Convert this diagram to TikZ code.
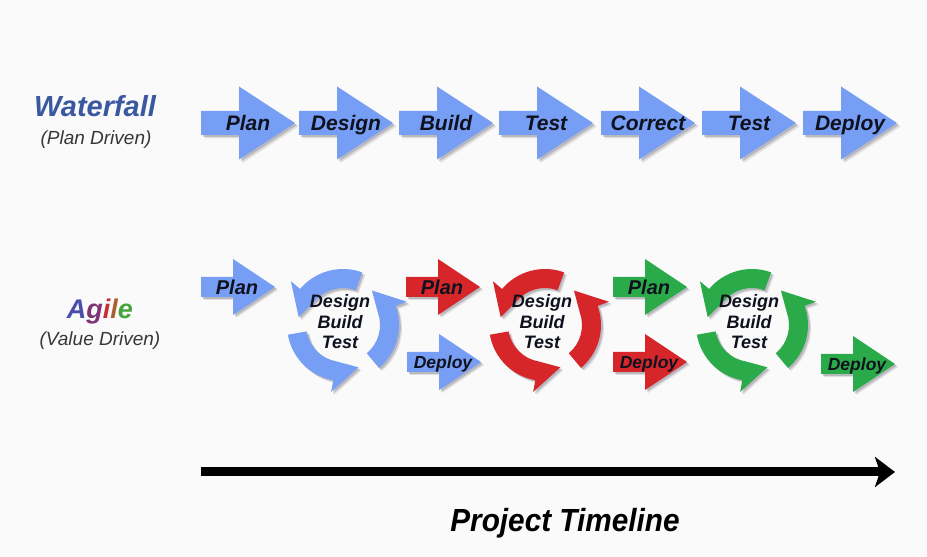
\documentclass[tikz,border=0pt]{standalone}
\usepackage{fontspec}
\setmainfont{Liberation Sans}
\newfontfamily\narrowf[FakeStretch=0.93]{Liberation Sans}
\usetikzlibrary{arrows.meta}
\definecolor{bgc}{RGB}{250,250,250}
\definecolor{cblue}{RGB}{118,158,244}
\definecolor{cred}{RGB}{214,38,42}
\definecolor{cgreen}{RGB}{43,170,74}
\definecolor{wfblue}{RGB}{58,88,160}
\definecolor{txtc}{RGB}{15,18,30}
\definecolor{subc}{RGB}{55,55,55}
\definecolor{shc}{RGB}{30,30,50}
\definecolor{agA}{RGB}{72,78,170}
\definecolor{agg}{RGB}{128,52,118}
\definecolor{agi}{RGB}{200,45,50}
\definecolor{agl}{RGB}{170,95,45}
\definecolor{age}{RGB}{72,165,62}
\tikzset{
  lbl/.style={text=txtc, inner sep=0pt, anchor=base},
  pics/bigarr/.style 2 args={code={
    \foreach \d/\o in {3.5/.12, 2/.2}{
      \fill[shc, opacity=\o, shift={(\d,-\d)}] (0,12)--(38,12)--(38,36.5)--(94,0)--(38,-36.5)--(38,-12)--(0,-12)--cycle;
    }
    \fill[#1] (0,12)--(38,12)--(38,36.5)--(94,0)--(38,-36.5)--(38,-12)--(0,-12)--cycle;
    \node[lbl, font=\fontsize{21}{21}\selectfont\bfseries\itshape] (-t) at (47,-7.5) {#2};
  }},
  pics/smallarr/.style n args={3}{code={
    \foreach \d/\o in {3/.12, 1.8/.2}{
      \fill[shc, opacity=\o, shift={(\d,-\d)}] (0,10)--(32,10)--(32,28)--(74,0)--(32,-28)--(32,-10)--(0,-10)--cycle;
    }
    \fill[#1] (0,10)--(32,10)--(32,28)--(74,0)--(32,-28)--(32,-10)--(0,-10)--cycle;
    \node[lbl, font=\fontsize{#3}{#3}\selectfont\bfseries\itshape] (-t) at (36,{-0.358*#3}) {#2};
  }},
  pics/cyc/.style={code={
    \foreach \s in {70,190,310}{
      \pgfmathsetmacro\angb{\s+70}
      \pgfmathsetmacro\angt{\s+100}
      \foreach \d/\o in {3/.12, 1.8/.2}{
        \fill[shc, opacity=\o, shift={(\d,-\d)}] (\s:56pt) arc[start angle=\s, end angle=\angb, radius=56pt] -- (\angb:68pt) -- (\angt:45pt) -- (\angb:37pt) arc[start angle=\angb, end angle=\s, radius=37pt] -- cycle;
      }
      \fill[#1] (\s:56pt) arc[start angle=\s, end angle=\angb, radius=56pt] -- (\angb:68pt) -- (\angt:45pt) -- (\angb:37pt) arc[start angle=\angb, end angle=\s, radius=37pt] -- cycle;
    }
    \node[text=txtc, inner sep=0pt, align=center, font=\fontsize{18}{20.5}\selectfont\bfseries\itshape] (-t) at (-3,3) {Design\\Build\\Test};
  }}
}
\begin{document}
\begin{tikzpicture}[x=1pt, y=1pt]
\useasboundingbox (0,0) rectangle (927,557);
\fill[bgc] (0,0) rectangle (927,557);

% left labels
\node[lbl, text=wfblue, font=\fontsize{29}{29}\selectfont\bfseries\itshape] (wf) at (95,440) {Waterfall};
\node[lbl, text=subc, font=\fontsize{19}{19}\selectfont\itshape] (wfs) at (96,412) {(Plan Driven)};
\node[lbl, font=\fontsize{27}{27}\selectfont\bfseries\itshape] (ag) at (100,238) {{\color{agA}A}{\color{agg}g}{\color{agi}i}{\color{agl}l}{\color{age}e}};
\node[lbl, text=subc, font=\fontsize{19}{19}\selectfont\itshape] (ags) at (100,211) {(Value Driven)};

% waterfall row
\pic (w1) at (201,434) {bigarr={cblue}{Plan}};
\pic (w2) at (299,434) {bigarr={cblue}{Design}};
\pic (w3) at (399,434) {bigarr={cblue}{Build}};
\pic (w4) at (499,434) {bigarr={cblue}{Test}};
\pic (w5) at (601,434) {bigarr={cblue}{Correct}};
\pic (w6) at (702,434) {bigarr={cblue}{Test}};
\pic (w7) at (803,434) {bigarr={cblue}{Deploy}};

% agile row
\pic (a1) at (201,270) {smallarr={cblue}{Plan}{20}};
\pic (c1) at (343,232) {cyc=cblue};
\pic (a2) at (406,270) {smallarr={cred}{Plan}{20}};
\pic (a3) at (407,195) {smallarr={cblue}{Deploy}{17.5}};
\pic (c2) at (545,232) {cyc=cred};
\pic (a4) at (613,270) {smallarr={cgreen}{Plan}{20}};
\pic (a5) at (613,195) {smallarr={cred}{Deploy}{17.5}};
\pic (c3) at (752,232) {cyc=cgreen};
\pic (a6) at (821,193) {smallarr={cgreen}{Deploy}{17.5}};

% timeline
\coordinate (tl0) at (201,85);
\coordinate (tl1) at (895,85);
\draw[line width=9pt, -{Stealth[length=20pt, width=30pt, inset=5pt]}] (tl0) -- (tl1);
\node[inner sep=0pt, text=black, font=\fontsize{32}{32}\selectfont\narrowf\bfseries\itshape] (pt) at (565,34) {Project Timeline};
\end{tikzpicture}
\end{document}
